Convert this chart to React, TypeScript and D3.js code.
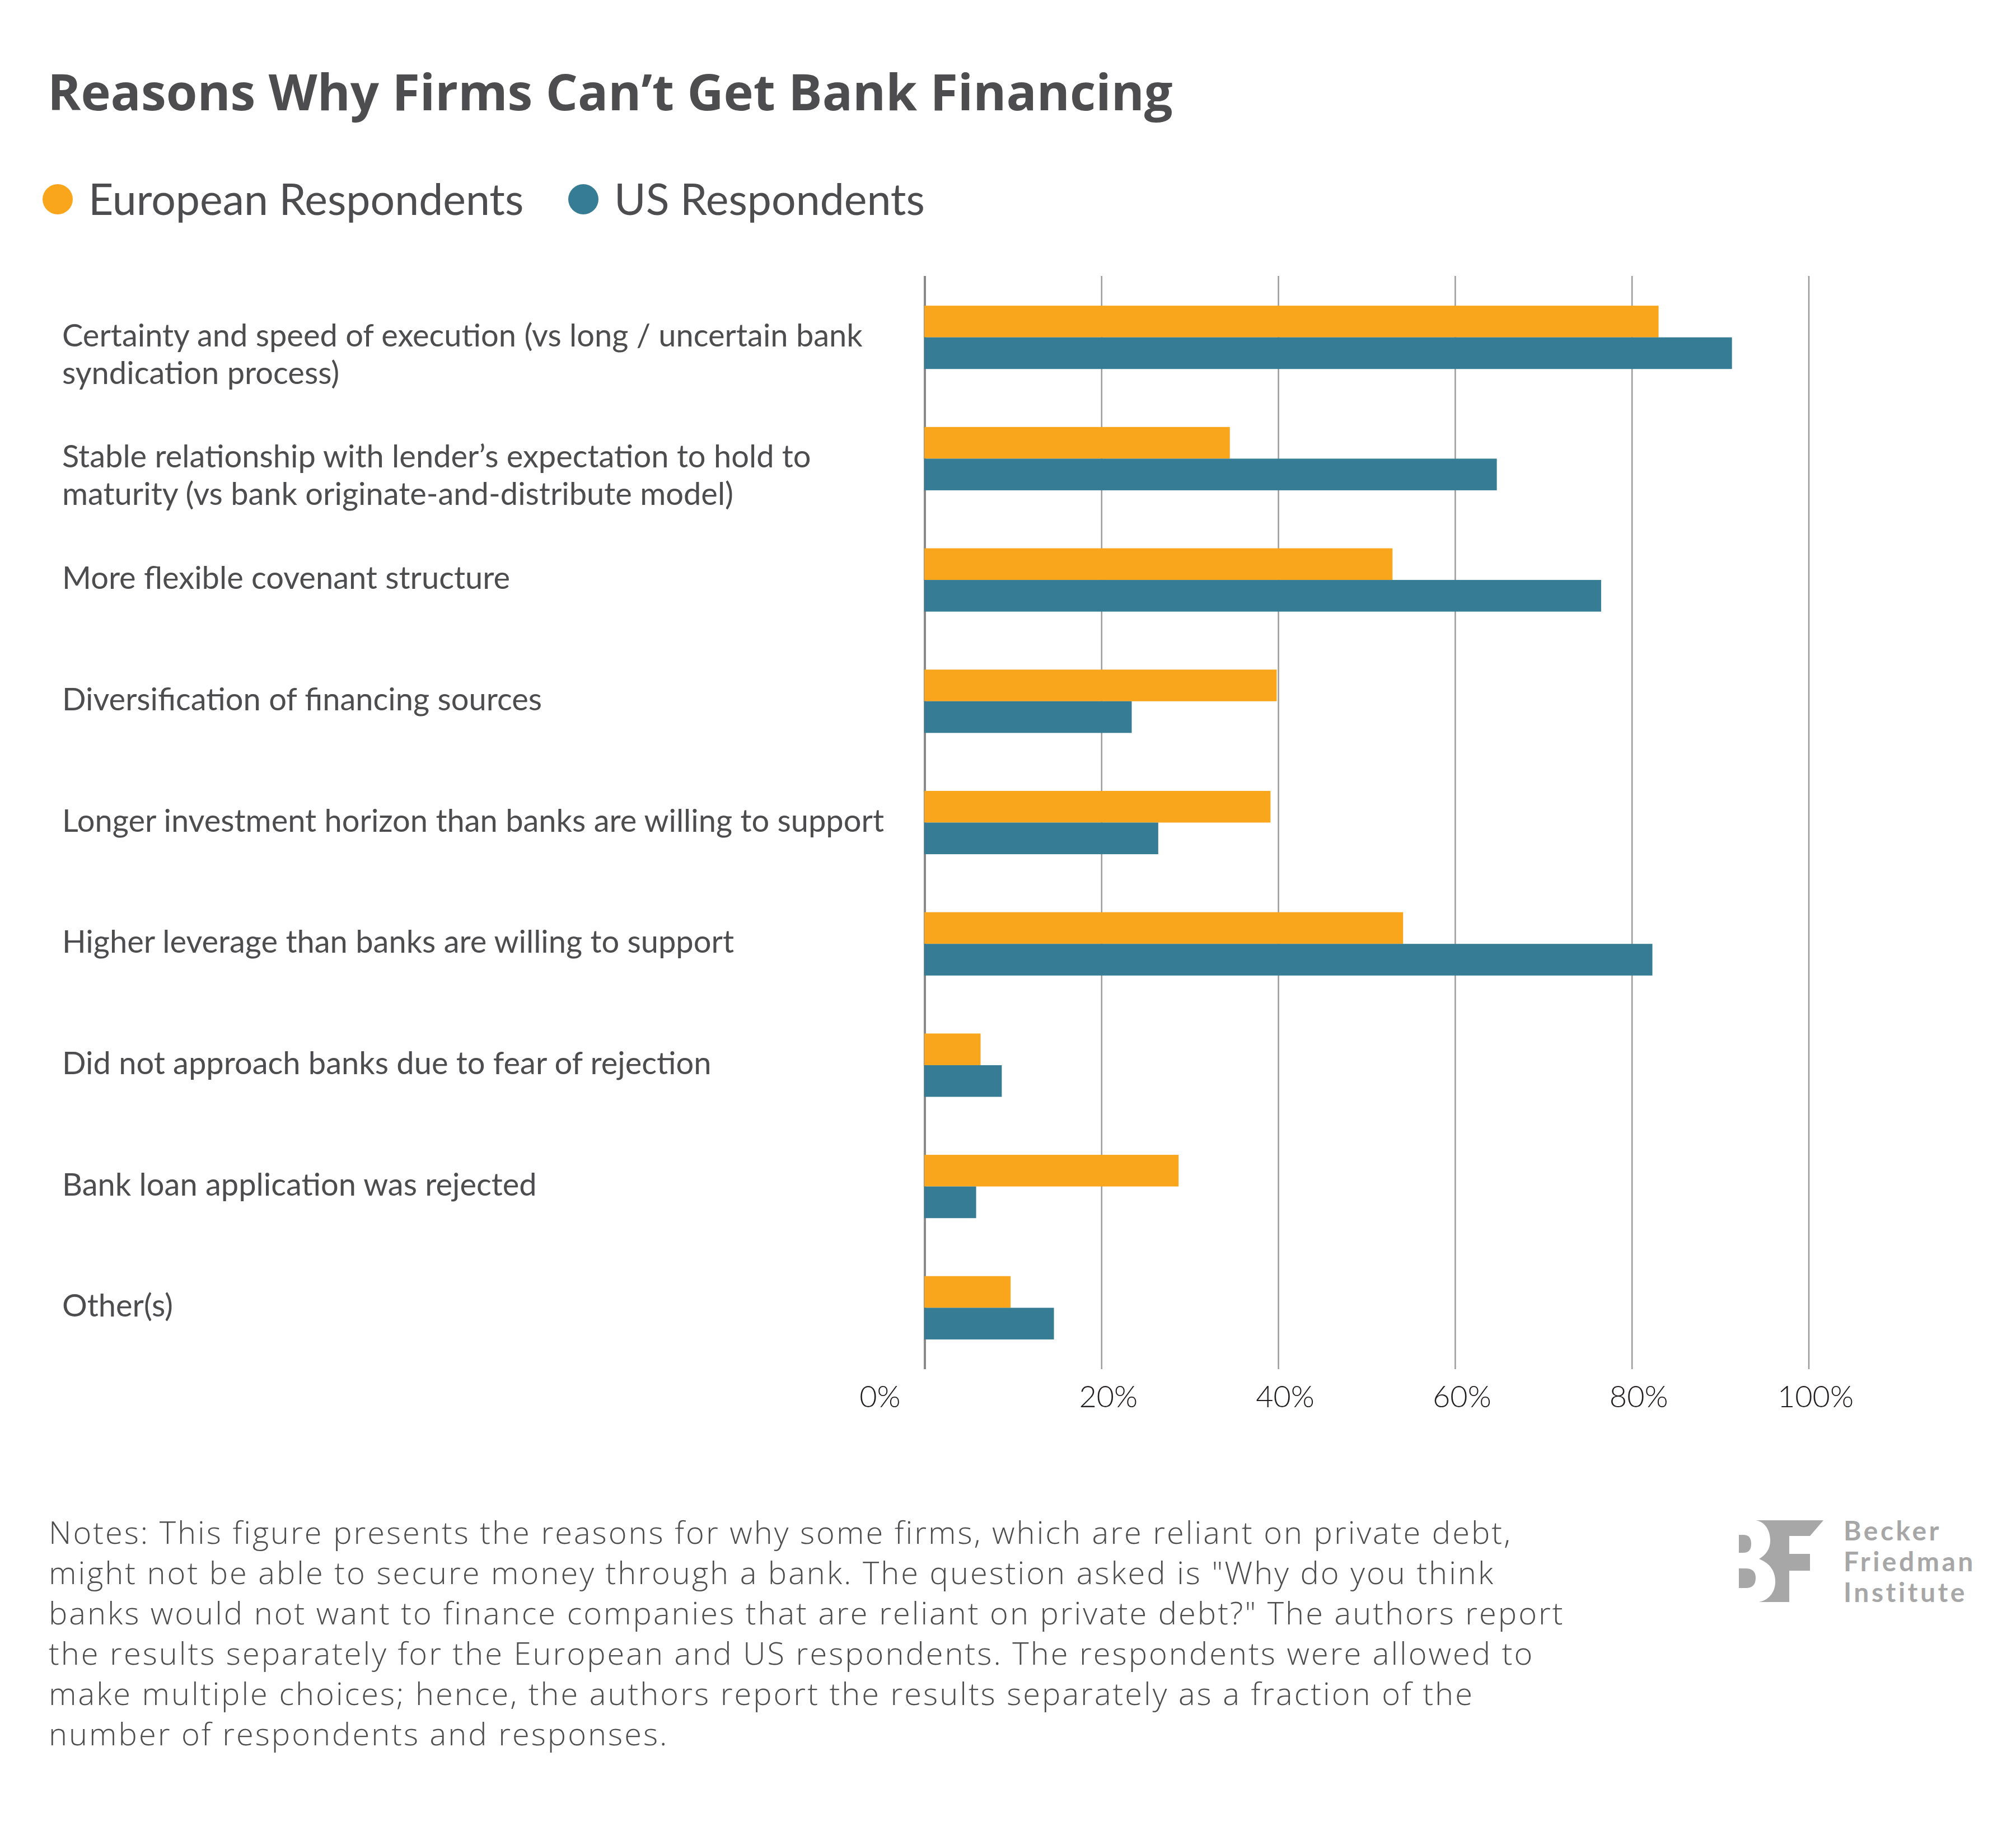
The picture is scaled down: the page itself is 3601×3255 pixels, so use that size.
import * as d3 from "d3";
import { useEffect, useRef } from "react";

const categories = [
  "Certainty and speed of execution (vs long / uncertain bank\nsyndication process)",
  "Stable relationship with lender’s expectation to hold to\nmaturity (vs bank originate-and-distribute model)",
  "More flexible covenant structure",
  "Diversification of financing sources",
  "Longer investment horizon than banks are willing to support",
  "Higher leverage than banks are willing to support",
  "Did not approach banks due to fear of rejection",
  "Bank loan application was rejected",
  "Other(s)",
];

const europeanValues = [83.0, 34.5, 52.9, 39.8, 39.1, 54.1, 6.3, 28.7, 9.7];
const usValues = [91.3, 64.7, 76.5, 23.4, 26.4, 82.3, 8.7, 5.8, 14.6];

const seriesNames = ["European Respondents", "US Respondents"];
const seriesColors = ["#F9A61C", "#367C95"];

const xTicks = [0, 20, 40, 60, 80, 100];

const noteLines = [
  "Notes: This figure presents the reasons for why some firms, which are reliant on private debt,",
  "might not be able to secure money through a bank. The question asked is \"Why do you think",
  "banks would not want to finance companies that are reliant on private debt?\" The authors report",
  "the results separately for the European and US respondents. The respondents were allowed to",
  "make multiple choices; hence, the authors report the results separately as a fraction of the",
  "number of respondents and responses.",
];

const logoLines = ["Becker", "Friedman", "Institute"];

const App = () => {
  const chartRef = useRef<SVGSVGElement | null>(null);

  useEffect(() => {
    const width = 3601;
    const height = 3255;
    const textColor = "#4D4D4F";
    const font = "Lato, 'Open Sans', sans-serif";
    const wideFont = "'Open Sans', Lato, sans-serif";

    const svg = d3.select(chartRef.current);
    svg.selectAll("*").remove();
    svg.attr("width", width).attr("height", height);

    svg.append("rect").attr("width", width).attr("height", height).attr("fill", "#fff");

    // title
    svg
      .append("text")
      .attr("x", 85)
      .attr("y", 197)
      .attr("font-family", wideFont)
      .attr("font-weight", 700)
      .attr("font-size", 90)
      .attr("fill", textColor)
      .text("Reasons Why Firms Can’t Get Bank Financing");

    // legend
    const legendX = [103, 1042];
    seriesNames.forEach((name, i) => {
      svg
        .append("circle")
        .attr("cx", legendX[i])
        .attr("cy", 356)
        .attr("r", 27)
        .attr("fill", seriesColors[i]);
      svg
        .append("text")
        .attr("x", legendX[i] + 55)
        .attr("y", 384)
        .attr("font-family", font)
        .attr("font-size", 77)
        .attr("fill", textColor)
        .text(name);
    });

    const xScale = d3.scaleLinear().domain([0, 100]).range([1652, 3231]);

    const yScale = d3
      .scaleBand()
      .domain(categories)
      .range([493, 2446])
      .paddingInner(0.478)
      .paddingOuter(0.245);

    const ySub = d3
      .scaleBand()
      .domain(seriesNames)
      .range([0, yScale.bandwidth()]);

    // gridlines
    svg
      .append("g")
      .selectAll("line")
      .data(xTicks)
      .enter()
      .append("line")
      .attr("x1", (d) => xScale(d))
      .attr("x2", (d) => xScale(d))
      .attr("y1", 493)
      .attr("y2", 2446)
      .attr("stroke", (d) => (d === 0 ? "#8a8a8a" : "#9b9b9b"))
      .attr("stroke-width", (d) => (d === 0 ? 4 : 2.5));

    // bars
    const rows = categories.map((c, i) => ({
      category: c,
      values: [europeanValues[i], usValues[i]],
    }));

    const groups = svg
      .append("g")
      .selectAll("g")
      .data(rows)
      .enter()
      .append("g")
      .attr("transform", (d) => `translate(0, ${yScale(d.category)})`);

    groups
      .selectAll("rect")
      .data((d) => d.values.map((v, i) => ({ v, i })))
      .enter()
      .append("rect")
      .attr("x", xScale(0) - 1)
      .attr("y", (d) => ySub(seriesNames[d.i]) || 0)
      .attr("width", (d) => xScale(d.v) - xScale(0) + 1)
      .attr("height", ySub.bandwidth())
      .attr("fill", (d) => seriesColors[d.i]);

    // category labels
    const labels = svg
      .append("g")
      .selectAll("text")
      .data(categories)
      .enter()
      .append("text")
      .attr("x", 111)
      .attr("y", (d) => (yScale(d) || 0) + yScale.bandwidth() / 2 + 16)
      .attr("font-family", font)
      .attr("font-size", 56)
      .attr("fill", textColor);

    labels
      .selectAll("tspan")
      .data((d) => d.split("\n"))
      .enter()
      .append("tspan")
      .attr("x", 111)
      .attr("dy", (_, i) => (i === 0 ? 0 : 67))
      .text((d) => d);

    // x tick labels
    svg
      .append("g")
      .selectAll("text")
      .data(xTicks)
      .enter()
      .append("text")
      .attr("x", (d) => xScale(d) + (d === 0 ? -80 : 12))
      .attr("y", 2514)
      .attr("text-anchor", "middle")
      .attr("font-family", font)
      .attr("font-weight", 300)
      .attr("font-size", 54)
      .attr("fill", "#231F20")
      .text((d) => `${d}%`);

    // notes
    svg
      .append("g")
      .selectAll("text")
      .data(noteLines)
      .enter()
      .append("text")
      .attr("x", 87)
      .attr("y", (_, i) => 2758 + i * 72)
      .attr("font-family", wideFont)
      .attr("font-weight", 300)
      .attr("font-size", 56)
      .attr("letter-spacing", 3)
      .attr("fill", textColor)
      .text((d) => d);

    // logo
    const logo = svg.append("g").attr("fill", "#A7A7A7");
    logo
      .append("path")
      .attr(
        "d",
        "M3136,2716 H3257 L3233,2744 H3196 V2776 H3233 V2806 H3196 V2862 H3142 " +
          "C3163,2858 3172,2840 3171,2823 C3170,2802 3156,2790 3142,2785 " +
          "C3155,2778 3163,2765 3162,2750 C3161,2730 3150,2718 3136,2716 Z"
      );
    logo
      .append("path")
      .attr("d", "M3106,2742 H3114 Q3128,2742 3128,2758 Q3128,2774 3114,2774 H3106 Z");
    logo
      .append("path")
      .attr("d", "M3106,2802 H3118 Q3136,2802 3136,2819 Q3136,2837 3118,2837 H3106 Z");
    logo
      .selectAll("text")
      .data(logoLines)
      .enter()
      .append("text")
      .attr("x", 3293)
      .attr("y", (_, i) => 2752 + i * 55)
      .attr("font-family", font)
      .attr("font-weight", 700)
      .attr("font-size", 48)
      .attr("letter-spacing", 4.5)
      .text((d) => d);
  }, []);

  return (
    <svg
      ref={chartRef}
      style={{ position: "absolute", left: 0, top: 0, display: "block" }}
    ></svg>
  );
};

export default App;
